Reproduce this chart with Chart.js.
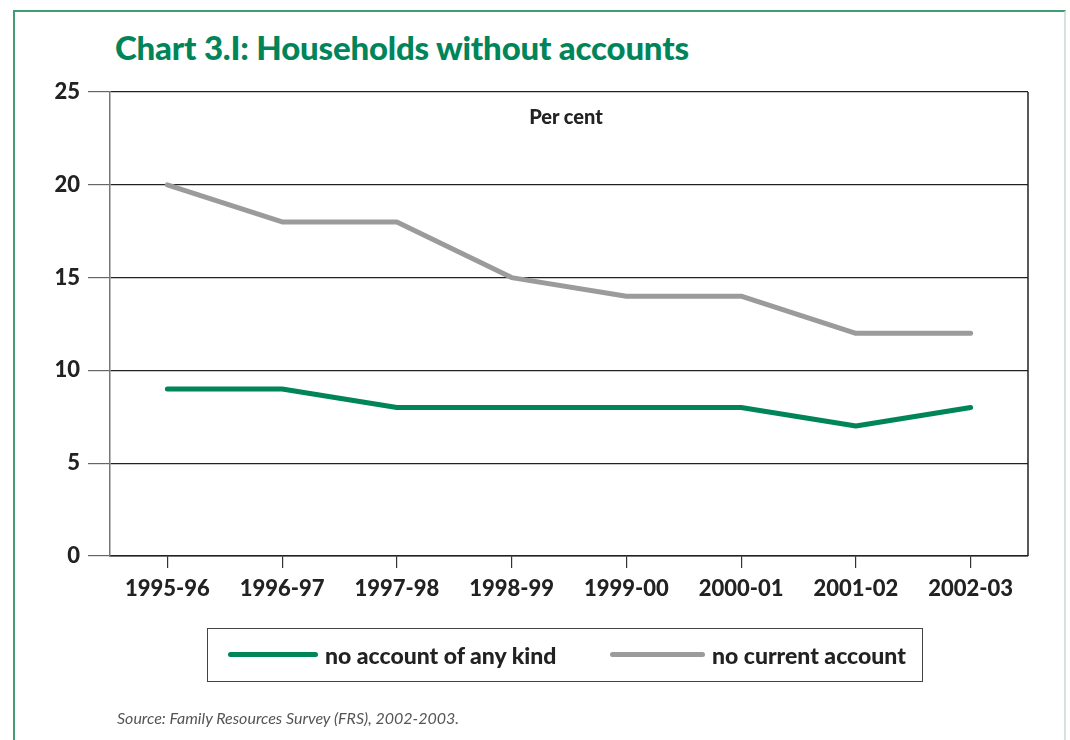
<!DOCTYPE html>
<html>
<head>
<meta charset="utf-8">
<script src="https://cdn.jsdelivr.net/npm/chart.js@4.4.1/dist/chart.umd.min.js"></script>
<style>
  html, body { margin: 0; padding: 0; background: #fff; }
  #wrap { position: relative; width: 1070px; height: 740px; overflow: hidden; font-family: Lato, "Open Sans", sans-serif; }
  #frame { position: absolute; left: 13px; top: 10px; width: 1053px; height: 740px; border-left: 2px solid #3f9e74; border-top: 2px solid #3f9e74; border-right: 2px solid #d3e4de; box-sizing: border-box; }
  #title { position: absolute; left: 115px; top: 27px; font-size: 33px; font-weight: 900; color: #00855a; white-space: nowrap; letter-spacing: -0.2px; }
  #unit { position: absolute; left: 466px; top: 104px; width: 200px; text-align: center; font-size: 20px; font-weight: 900; color: #222; }
  #legend { position: absolute; left: 207px; top: 628px; width: 716px; height: 54px; border: 1.5px solid #444; box-sizing: border-box; }
  .li { position: absolute; top: 0; height: 51px; display: flex; align-items: center; font-size: 23px; font-weight: 900; color: #222; white-space: nowrap; }
  .sw { display: inline-block; height: 5px; border-radius: 3px; margin-right: 7px; }
  #source { position: absolute; left: 117px; top: 708px; font-size: 16px; font-style: italic; color: #555; }
  canvas { position: absolute; left: 0; top: 0; }
</style>
</head>
<body>
<div id="wrap">
  <div id="frame"></div>
  <div id="title">Chart 3.I: Households without accounts</div>
  <canvas id="c" width="1070" height="740"></canvas>
  <div id="unit">Per cent</div>
  <div id="legend">
    <div class="li" style="left:20px"><span class="sw" style="width:90px;background:#00855a"></span>no account of any kind</div>
    <div class="li" style="left:402px"><span class="sw" style="width:95px;background:#9b9b9b"></span>no current account</div>
  </div>
  <div id="source">Source: Family Resources Survey (FRS), 2002-2003.</div>
</div>
<script>
const categories = ["1995-96", "1996-97", "1997-98", "1998-99", "1999-00", "2000-01", "2001-02", "2002-03"];
const noAccountAnyKind = [9, 9, 8, 8, 8, 8, 7, 8];
const noCurrentAccount = [20, 18, 18, 15, 14, 14, 12, 12];
const yTicks = [0, 5, 10, 15, 20, 25];

const frameRight = {
  id: 'frameRight',
  afterDraw(chart) {
    const a = chart.chartArea, ctx = chart.ctx;
    ctx.save();
    ctx.strokeStyle = '#222';
    ctx.lineWidth = 1.5;
    ctx.beginPath();
    ctx.moveTo(a.right, a.top);
    ctx.lineTo(a.right, a.bottom);
    ctx.stroke();
    ctx.restore();
  }
};

new Chart(document.getElementById('c'), {
  type: 'line',
  data: {
    labels: categories,
    datasets: [
      { label: 'no current account', data: noCurrentAccount, borderColor: '#9b9b9b', borderWidth: 5, pointRadius: 0, tension: 0, borderCapStyle: 'round', borderJoinStyle: 'round' },
      { label: 'no account of any kind', data: noAccountAnyKind, borderColor: '#00855a', borderWidth: 5, pointRadius: 0, tension: 0, borderCapStyle: 'round', borderJoinStyle: 'round' }
    ]
  },
  options: {
    responsive: false,
    animation: false,
    layout: { padding: { left: 30, right: 42, top: 92, bottom: 124 } },
    plugins: { legend: { display: false }, tooltip: { enabled: false } },
    scales: {
      x: {
        offset: true,
        afterFit(s) { s.height = 60; },
        grid: { display: true, drawOnChartArea: false, tickLength: 12, color: '#333', lineWidth: 1.2 },
        border: { display: true, color: '#222', width: 1.5 },
        ticks: { color: '#222', font: { family: 'Lato', size: 22, weight: '900' }, padding: 8, maxRotation: 0 }
      },
      y: {
        min: 0, max: 25,
        afterFit(s) { s.width = 80; },
        afterBuildTicks(s) { s.ticks = yTicks.map(v => ({ value: v })); },
        grid: { color: '#222', lineWidth: 1.2, tickLength: 22, tickColor: '#666' },
        border: { display: true, color: '#777', width: 1.5 },
        ticks: { color: '#222', font: { family: 'Lato', size: 22, weight: '900' }, padding: 8 }
      }
    }
  },
  plugins: [frameRight]
});
</script>
</body>
</html>
